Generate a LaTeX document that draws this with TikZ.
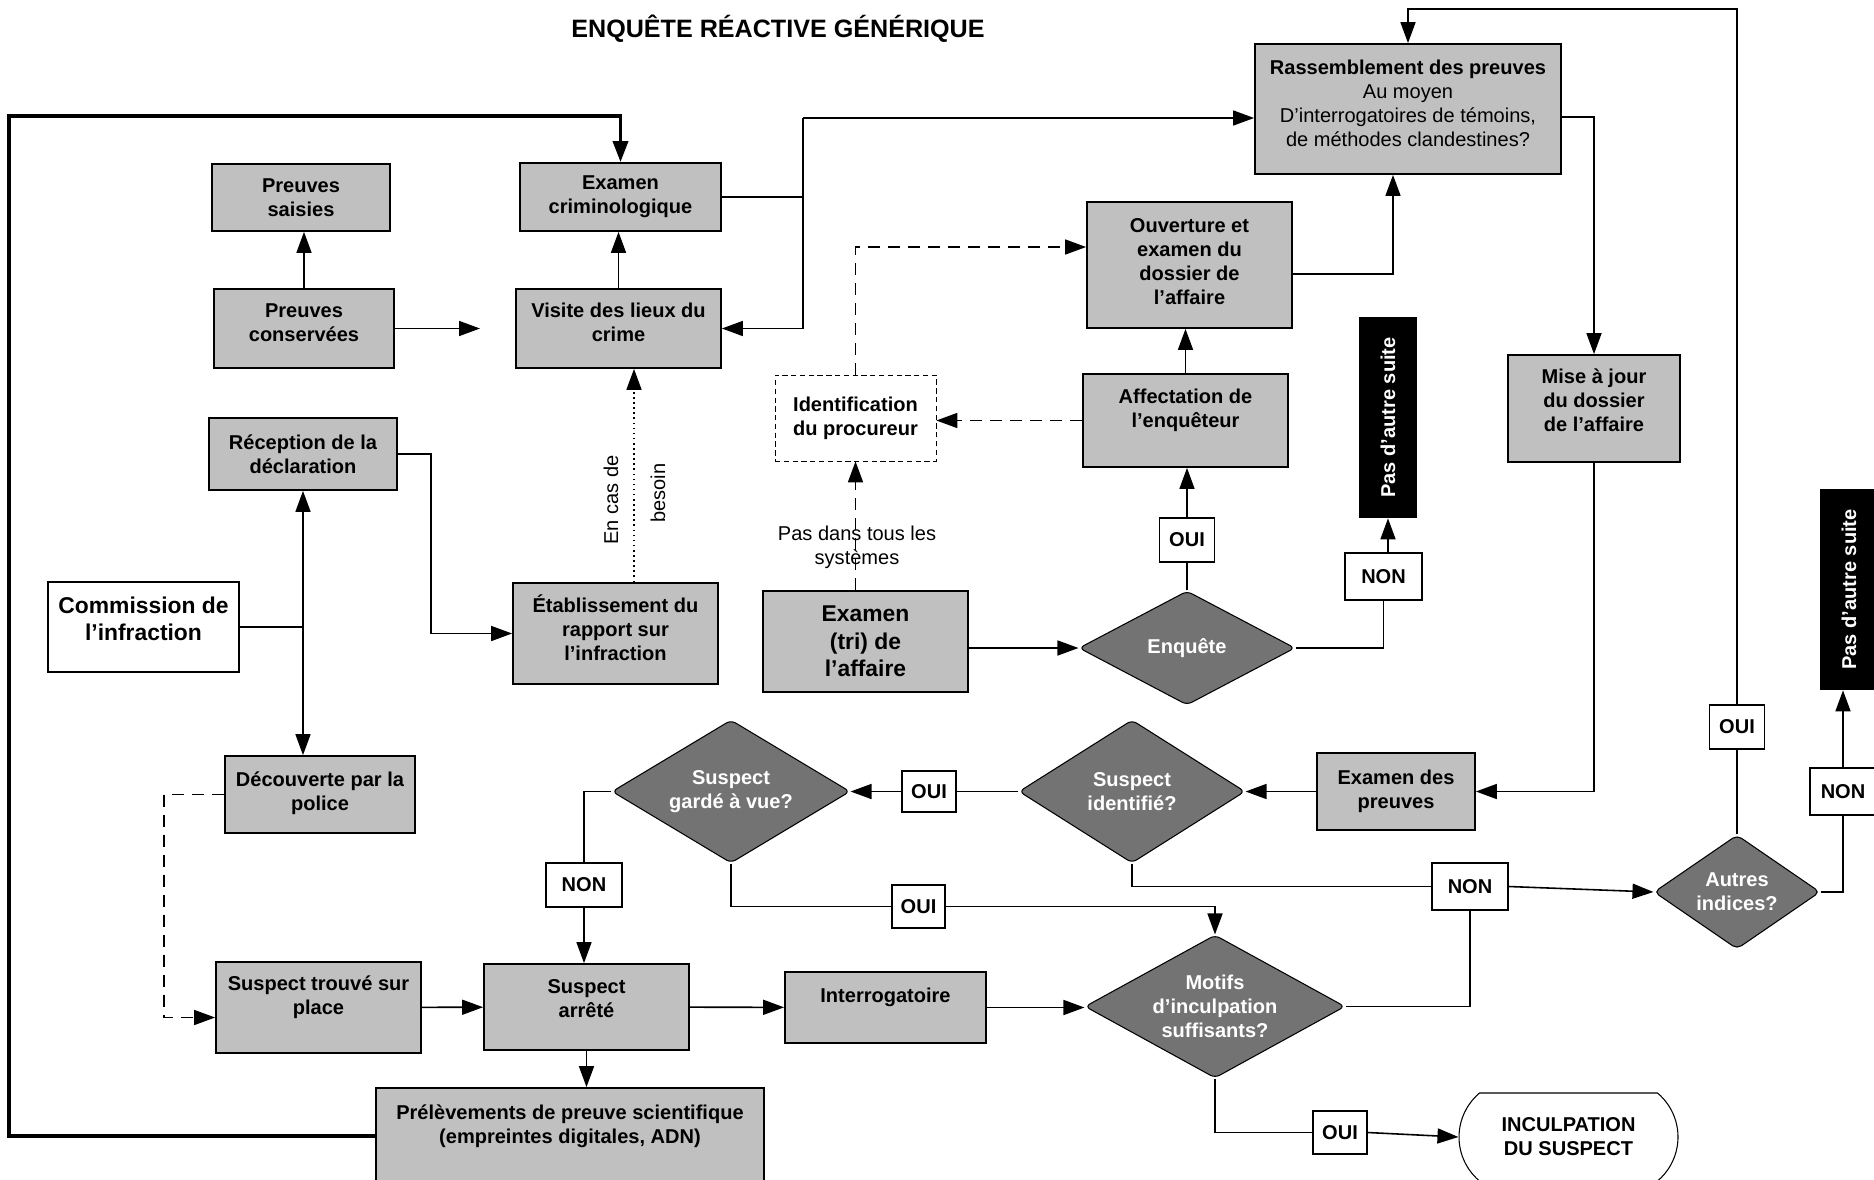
\documentclass[tikz,border=0pt]{standalone}
\usepackage{fontspec}
\setmainfont{Liberation Sans}
\usetikzlibrary{arrows.meta,shapes.geometric,shapes.misc}

\definecolor{boxgray}{HTML}{C0C0C0}
\definecolor{diagray}{HTML}{737373}

\tikzset{
  sz/.style 2 args={minimum width=#1*0.2mm,minimum height=#2*0.2mm},
  base/.style={draw,line width=1pt,inner sep=0pt,align=center,font=\fontsize{11.4}{13.7}\selectfont\bfseries},
  etape/.style={base,fill=boxgray},
  grosse/.style={base,font=\fontsize{13}{15.6}\selectfont\bfseries},
  choix/.style={diamond,draw,line width=0.6pt,fill=diagray,text=white,inner sep=0pt,align=center,
    rounded corners=3pt,font=\fontsize{11.4}{13.7}\selectfont\bfseries},
  rep/.style={draw,fill=white,line width=0.7pt,inner sep=0pt,font=\fontsize{11.4}{13.7}\selectfont\bfseries},
  fin/.style={fill=black,text=white,inner sep=0pt,font=\fontsize{11.4}{13.7}\selectfont\bfseries},
  texte/.style={inner sep=0pt,align=center,font=\fontsize{11.4}{13.7}\selectfont},
  ligne/.style={line width=0.9pt},
  lien/.style={ligne,-{Triangle[length=4.2mm,width=3mm]}},
  tirets/.style={dash pattern=on 2.4mm off 1.6mm},
}

\begin{document}
\begin{tikzpicture}[x=0.2mm,y=-0.2mm]
\useasboundingbox (0,0) rectangle (1874,1179);

\node[font=\fontsize{14.3}{17}\selectfont\bfseries] (titre) at (778,29) {ENQUÊTE RÉACTIVE GÉNÉRIQUE};

% boites
\node[etape,sz={178}{67}] (saisies) at (301,197.5) {Preuves\\saisies};
\node[etape,sz={180}{79}] (conserv) at (304,328.5) {Preuves\\conservées\\[-6.85pt]~};
\node[etape,sz={201}{68}] (crimino) at (620.5,197) {Examen\\criminologique};
\node[etape,sz={205}{79}] (visite) at (618.5,328.5) {Visite des lieux du\\crime\\[-6.85pt]~};
\node[etape,sz={188}{72}] (reception) at (303,454) {Réception de la\\déclaration};
\node[grosse,sz={191}{90}] (commission) at (143.5,627) {Commission de\\l’infraction\\[-6.5pt]~};
\node[etape,sz={205}{101}] (rapport) at (615.5,633.5) {Établissement du\\rapport sur\\l’infraction\\[-6.85pt]~};
\node[etape,sz={190}{77}] (decouverte) at (320,794.5) {Découverte par la\\police\\[-10pt]~};
\node[etape,sz={205}{91}] (surplace) at (318.5,1007.5) {Suspect trouvé sur\\place\\~};
\node[etape,sz={205}{86}] (arrete) at (586.5,1007) {Suspect\\arrêté\\[-4pt]~};
\node[etape,sz={201}{71}] (interro) at (885.5,1007.5) {Interrogatoire\\~};
\node[etape,sz={388}{96}] (prelev) at (570,1136) {Prélèvements de preuve scientifique\\(empreintes digitales, ADN)\\~};
\node[base,line width=0.4pt,densely dashed,sz={161}{86}] (procureur) at (855.5,418) {Identification\\du procureur};
\node[grosse,fill=boxgray,sz={205}{101}] (tri) at (865.5,641.5) {Examen\\(tri) de\\l’affaire};
\node[etape,sz={205}{126}] (ouverture) at (1189.5,265) {Ouverture et\\examen du\\dossier de\\l’affaire\\[-10pt]~};
\node[etape,sz={205}{93}] (affect) at (1185.5,420.5) {Affectation de\\l’enquêteur\\~};
\node[etape,sz={306}{130}] (rassemb) at (1408,109) {Rassemblement des preuves\\\mdseries Au moyen\\\mdseries D’interrogatoires de témoins,\\\mdseries de méthodes clandestines?\\[-6.85pt]~};
\node[etape,sz={172}{107}] (majdossier) at (1594,408.5) {Mise à jour\\du dossier\\de l’affaire\\[-4pt]~};
\node[etape,sz={158}{77}] (exampreuves) at (1396,791.5) {Examen des\\preuves};
\node[fin,sz={58}{201}] (stop1) at (1388,417.5) {\rotatebox{90}{Pas d’autre suite}};
\node[fin,sz={58}{201}] (stop2) at (1849,589.5) {\rotatebox{90}{Pas d’autre suite}};

% decisions
\node[choix,sz={216}{114},aspect=1.89] (enquete) at (1187,648) {Enquête};
\node[choix,sz={238}{143},aspect=1.66] (gardevue) at (731,791.5) {Suspect\\gardé à vue?};
\node[choix,sz={226}{143},aspect=1.58] (identifie) at (1132,791.5) {Suspect\\identifié?};
\node[choix,sz={260}{143},aspect=1.82] (motifs) at (1215,1006.5) {Motifs\\d’inculpation\\suffisants?};
\node[choix,sz={166}{114},aspect=1.46] (indices) at (1737,892) {Autres\\indices?};

\node[base,line width=0.6pt,rounded rectangle,rounded rectangle arc length=100,sz={219}{88}] (inculp) at (1568.5,1137) {INCULPATION\\DU SUSPECT};

% reponses
\node[rep,sz={55}{44}] (oui1) at (1187,540) {OUI};
\node[rep,sz={77}{47}] (non1) at (1383.5,576.5) {NON};
\node[rep,sz={54}{41}] (oui2) at (929,791.5) {OUI};
\node[rep,sz={76}{44}] (non2) at (584,885) {NON};
\node[rep,sz={53}{43}] (oui3) at (918.5,906.5) {OUI};
\node[rep,sz={76}{47}] (non3) at (1470,886.5) {NON};
\node[rep,sz={55}{44}] (oui4) at (1737,727) {OUI};
\node[rep,sz={66}{47}] (non4) at (1843,791.5) {NON};
\node[rep,sz={54}{43}] (oui5) at (1340,1132.5) {OUI};

\node[texte] (toussys) at (857,547.5) {Pas dans tous les\\systèmes};
\node[texte,rotate=90] (encas) at (611,500) {En cas de};
\node[texte,rotate=90] (besoin) at (658,493) {besoin};

\coordinate (pointe) at (480,328.5);
\coordinate (j1) at (803,118);
\coordinate (coin) at (9,116);
\coordinate (haut) at (1737,9);

% liens
\draw[lien] (conserv.north) -- (conserv.north |- saisies.south);
\draw[lien] (conserv) -- (pointe);
\draw[lien] (visite.north) -- (visite.north |- crimino.south);
\draw[ligne] (crimino.east) -- (crimino.east -| j1);
\draw[lien] (j1) |- (visite.east);
\draw[lien] (j1) -- (j1 -| rassemb.west);
\draw[lien,line width=2pt] (prelev.west) -| (coin) -| (crimino.north);
\draw[ligne,{Triangle[length=4.2mm,width=3mm]}-{Triangle[length=4.2mm,width=3mm]}] (reception.south) -- (reception.south |- decouverte.north);
\draw[ligne] (commission.east) -- (commission.east -| reception.south);
\draw[lien] (reception.east) -- ++(33,0) |- (rapport.west);
\draw[lien,dotted] ([xshift=3.7mm]rapport.north) -- ([xshift=3.7mm]rapport.north |- visite.south);
\draw[lien,tirets] (decouverte.west) -- ++(-60,0) |- ([yshift=-2mm]surplace.west);
\draw[lien] (surplace) -- (arrete);
\draw[lien] (arrete) -- (interro);
\draw[lien] (arrete.south) -- (arrete.south |- prelev.north);
\draw[lien] (interro.east) -- (interro.east -| motifs.west);

\draw[lien,tirets] (procureur.south |- tri.north) -- (procureur.south);
\draw[lien,tirets] (procureur.north) |- ([yshift=3.6mm]ouverture.west);
\draw[lien,tirets] (affect.west) -- (affect.west -| procureur.east);
\draw[lien] (affect.north) -- (affect.north |- ouverture.south);
\draw[lien] (tri.east |- enquete.west) -- (enquete.west);
\draw[ligne] (enquete.north) -- (oui1.south);
\draw[lien] (oui1.north) -- (oui1.north |- affect.south);
\draw[ligne] (enquete.east) -| (non1.south);
\draw[lien] (stop1.south |- non1.north) -- (stop1.south);

\draw[lien] ([yshift=-1.8mm]ouverture.east) -| ([xshift=-3mm]rassemb.south);
\draw[lien] ([yshift=-1.6mm]rassemb.east) -| (majdossier.north);
\draw[lien] (majdossier.south) |- (exampreuves.east);
\draw[lien] (exampreuves) -- (identifie);
\draw[ligne] (identifie.west) -- (oui2.east);
\draw[lien] (oui2.west) -- (gardevue.east);
\draw[ligne] (gardevue.west) -| (non2.north);
\draw[lien] (non2.south) -- (non2.south |- arrete.north);
\draw[ligne] (gardevue.south) |- (oui3.west);
\draw[lien] (oui3.east) -| (motifs.north);
\draw[ligne] (identifie.south) |- (non3.west);
\draw[lien] (non3.east) -- (indices.west);
\draw[ligne] (motifs.east) -| (non3.south);
\draw[ligne] (indices.north) -- (oui4.south);
\draw[lien] (oui4.north) -- (oui4.north |- haut) -| (rassemb.north);
\draw[ligne] (indices.east) -| (non4.south);
\draw[lien] (non4.north) -- (non4.north |- stop2.south);
\draw[ligne] (motifs.south) |- (oui5.west);
\draw[lien] (oui5.east) -- (inculp.west);

\end{tikzpicture}
\end{document}
